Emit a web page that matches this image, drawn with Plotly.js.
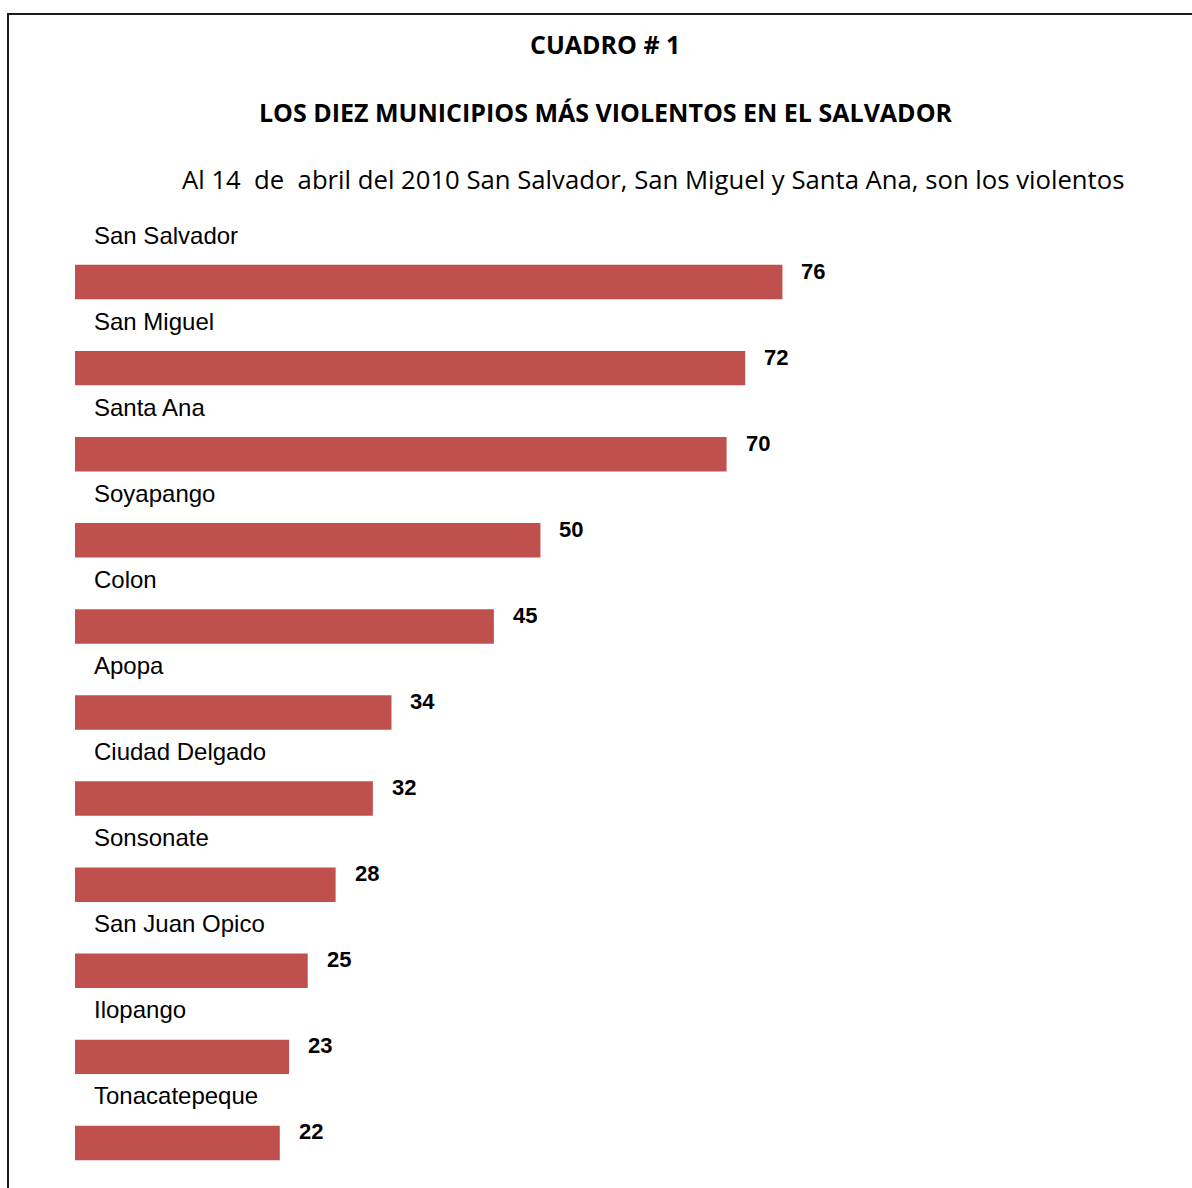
<!DOCTYPE html>
<html>
<head>
<meta charset="utf-8">
<script src="https://cdn.plot.ly/plotly-3.0.1.min.js"></script>
<style>html,body{margin:0;padding:0;background:#fff;}#chart{width:1192px;height:1188px;}</style>
</head>
<body>
<div id="chart"></div>
<script>
// Data
const municipios = ["San Salvador","San Miguel","Santa Ana","Soyapango","Colon","Apopa","Ciudad Delgado","Sonsonate","San Juan Opico","Ilopango","Tonacatepeque"];
const homicidios = [76,72,70,50,45,34,32,28,25,23,22];
const cuadro = "CUADRO # 1";
const titulo = "LOS DIEZ MUNICIPIOS MÁS VIOLENTOS EN EL SALVADOR";
const subtitulo = "Al 14\u00A0 de\u00A0 abril del 2010 San Salvador, San Miguel y Santa Ana, son los violentos";

const W = 1192, H = 1188;
const M = {l: 75, r: 0, t: 239, b: 2};
const PW = W - M.l - M.r, PH = H - M.t - M.b;
const px2x = p => (p - M.l) / PW;
const py2y = p => (H - M.b - p) / PH;

const barColor = "#C0504D";
const titleFont = {family: "'Open Sans', Lato, sans-serif", size: 25, color: "#000"};

const annotations = [];
annotations.push({xref: "paper", yref: "paper", x: px2x(605), y: py2y(44), text: "<b>" + cuadro + "</b>", showarrow: false, xanchor: "center", yanchor: "middle", font: titleFont});
annotations.push({xref: "paper", yref: "paper", x: px2x(605.5), y: py2y(112), text: "<b>" + titulo + "</b>", showarrow: false, xanchor: "center", yanchor: "middle", font: titleFont});
annotations.push({xref: "paper", yref: "paper", x: px2x(180), y: py2y(180), text: subtitulo, showarrow: false, xanchor: "left", yanchor: "middle", font: {family: "'Open Sans', Lato, sans-serif", size: 25.7, color: "#000"}});

municipios.forEach((m, i) => {
  annotations.push({xref: "paper", yref: "y", x: px2x(92), y: m, yshift: 47, text: m, showarrow: false, xanchor: "left", yanchor: "middle",
    font: {family: "Arial, 'Liberation Sans', sans-serif", size: 24, color: "#000"}});
  annotations.push({xref: "x", yref: "y", x: homicidios[i], y: m, xshift: 17, yshift: 11, text: "<b>" + homicidios[i] + "</b>", showarrow: false, xanchor: "left", yanchor: "middle",
    font: {family: "Arial, 'Liberation Sans', sans-serif", size: 22, color: "#000"}});
});

const shapes = [
  {type: "line", xref: "paper", yref: "paper", x0: px2x(8), x1: px2x(1200), y0: py2y(14), y1: py2y(14), line: {color: "#1a1a1a", width: 2}},
  {type: "line", xref: "paper", yref: "paper", x0: px2x(8), x1: px2x(8), y0: py2y(13), y1: py2y(1200), line: {color: "#1a1a1a", width: 2}}
];

const trace = {
  type: "bar",
  orientation: "h",
  x: homicidios,
  y: municipios,
  marker: {color: barColor},
  width: 0.4,
  hoverinfo: "none"
};

const layout = {
  width: W, height: H,
  margin: M,
  paper_bgcolor: "#fff",
  plot_bgcolor: "rgba(0,0,0,0)",
  showlegend: false,
  xaxis: {range: [0, 120], visible: false, fixedrange: true},
  yaxis: {type: "category", range: [10.5, -0.5], visible: false, fixedrange: true},
  annotations: annotations,
  shapes: shapes
};

Plotly.newPlot("chart", [trace], layout, {displayModeBar: false, staticPlot: true});
</script>
</body>
</html>
